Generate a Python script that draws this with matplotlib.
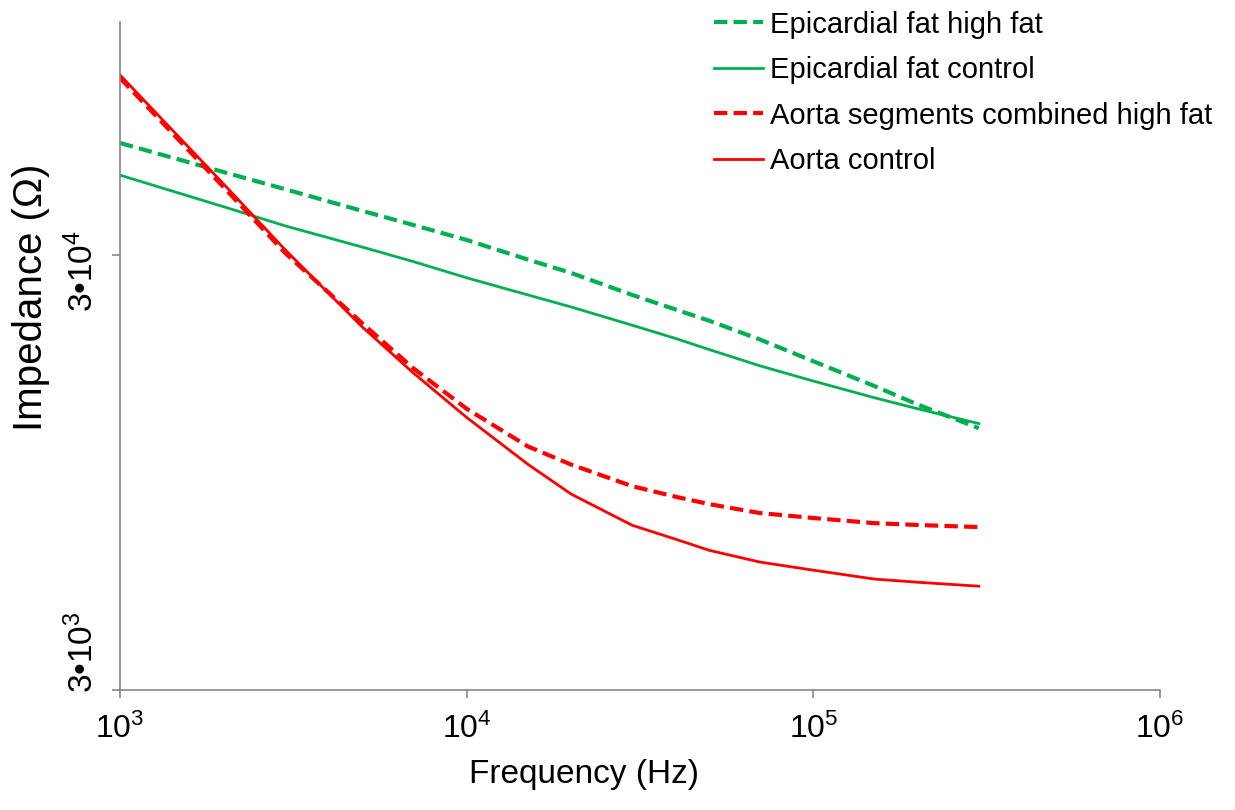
import numpy as np
import matplotlib
matplotlib.use('Agg')
import matplotlib.pyplot as plt
from matplotlib.ticker import FixedLocator, FixedFormatter, NullLocator, NullFormatter

plt.rcParams['font.family'] = ['Liberation Sans', 'DejaVu Sans']
plt.rcParams['mathtext.fontset'] = 'custom'
plt.rcParams['mathtext.rm'] = 'Liberation Sans'
plt.rcParams['mathtext.it'] = 'Liberation Sans:italic'
plt.rcParams['mathtext.bf'] = 'Liberation Sans:bold'

# frequencies (Hz)
freq = [1e3, 2e3, 3e3, 5e3, 7e3, 1e4, 1.5e4, 2e4, 3e4, 4e4, 5e4, 7e4, 1e5, 1.5e5, 2e5, 3e5]

# impedance (Ohm)
epi_high_fat = [54300, 46500, 42500, 37900, 35200, 32500, 29300, 27300, 24300, 22500, 21200, 19200,
                17100, 15000, 13600, 12000]
epi_control = [45800, 38700, 35000, 31300, 29000, 26600, 24300, 22800, 20700, 19300, 18200, 16700,
               15400, 14100, 13300, 12300]
aorta_high_fat = [76600, 42800, 30300, 20900, 16500, 13300, 10900, 9900, 8830, 8350, 8030, 7660,
                  7460, 7260, 7190, 7110]
aorta_control = [77800, 43500, 30800, 20500, 16100, 12700, 9920, 8470, 7180, 6670, 6290, 5910,
                 5660, 5400, 5310, 5200]

x_ticks = [1e3, 1e4, 1e5, 1e6]
x_labels = [r'$10^{3}$', r'$10^{4}$', r'$10^{5}$', r'$10^{6}$']
y_ticks = [3e3, 3e4]
y_labels = ['3•$10^{3}$', '3•$10^{4}$']

green = '#00B050'
red = '#FF0000'
grey = '#868686'

fig = plt.figure(figsize=(12.35, 8.1), dpi=100)
ax = fig.add_axes([0.0972, 0.148, 0.8421, 0.8248])

dash = (3.2, 1.5)
ax.plot(freq, epi_high_fat, color=green, lw=3.0, linestyle=(0, dash), label='Epicardial fat high fat')
ax.plot(freq, epi_control, color=green, lw=2.0, label='Epicardial fat control')
ax.plot(freq, aorta_high_fat, color=red, lw=3.0, linestyle=(0, dash), label='Aorta segments combined high fat')
ax.plot(freq, aorta_control, color=red, lw=2.0, label='Aorta control')

ax.set_xscale('log')
ax.set_yscale('log')
ax.set_xlim(1e3, 1e6)
ax.set_ylim(3e3, 1.03e5)

ax.xaxis.set_major_locator(FixedLocator(x_ticks))
ax.xaxis.set_major_formatter(FixedFormatter(x_labels))
ax.xaxis.set_minor_locator(NullLocator())
ax.yaxis.set_major_locator(FixedLocator(y_ticks))
ax.yaxis.set_major_formatter(NullFormatter())
ax.yaxis.set_minor_locator(NullLocator())

for side in ['top', 'right']:
    ax.spines[side].set_visible(False)
for side in ['left', 'bottom']:
    ax.spines[side].set_color(grey)
    ax.spines[side].set_linewidth(1.2)

ax.tick_params(axis='both', direction='out', length=6, width=1.2, color=grey, labelsize=23)
ax.tick_params(axis='x', pad=11)

# rotated y tick labels, placed like the original (Excel-style offsets)
y_offsets = [-2, -41]
for val, txt, dy in zip(y_ticks, y_labels, y_offsets):
    ax.annotate(txt, xy=(0, val), xycoords=ax.get_yaxis_transform(),
                xytext=(-14, dy), textcoords='offset points',
                rotation=90, ha='right', va='bottom', fontsize=24)

ax.set_xlabel('Frequency (Hz)', fontsize=24)
ax.set_ylabel('Impedance (Ω)', fontsize=29)
ax.yaxis.set_label_coords(-0.067, 0.588)
ax.xaxis.set_label_coords(0.446, -0.103)

fig.legend(loc='upper right', bbox_to_anchor=(0.998, 1.012), frameon=False, fontsize=21,
           handlelength=1.65, handletextpad=0.25, labelspacing=0.6, borderpad=0.2)

fig.savefig('out.png', dpi=100)
